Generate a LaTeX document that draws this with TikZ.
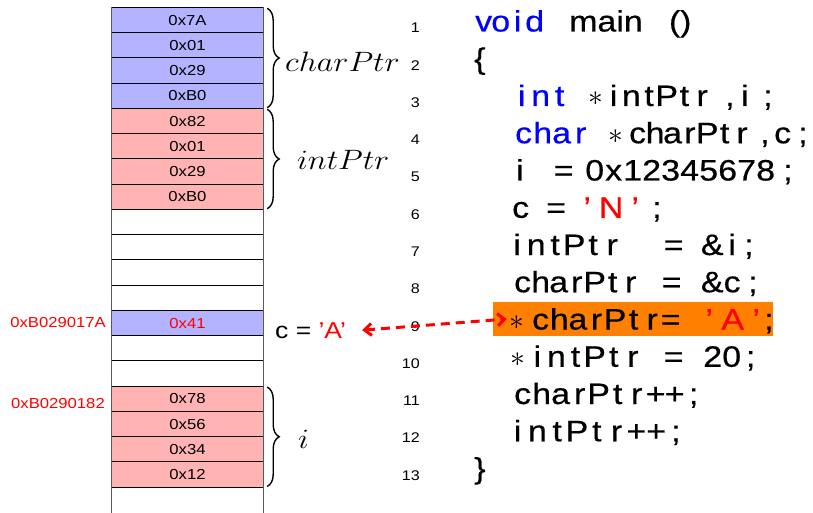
\documentclass[tikz,border=0pt]{standalone}
\usepackage{fix-cm}
\usepackage[no-math]{fontspec}
\setmainfont{Liberation Sans}[FakeStretch=1.15]
\newfontfamily\codefam{Liberation Sans}[FakeStretch=1.15,FakeBold=0.5]
\usepackage{graphicx}
\usetikzlibrary{decorations.pathreplacing,arrows.meta}
\definecolor{cellblue}{RGB}{179,179,255}
\definecolor{cellred}{RGB}{255,179,179}
\definecolor{hlorange}{RGB}{255,128,0}
\newlength\cw
\newcommand\cg[2]{\setlength\cw{#1pt}\cgA#2\relax}
\def\cgA#1{\ifx\relax#1\else\makebox[\cw][c]{#1}\expandafter\cgA\fi}
\tikzset{
  cell/.style={minimum width=151pt, minimum height=25.25pt, inner sep=0pt, font=\fontsize{14.5}{16}\selectfont},
  code/.style={anchor=base west, inner sep=0pt, font=\codefam\fontsize{29.5}{30}\selectfont},
  lnum/.style={anchor=base east, inner sep=0pt, font=\fontsize{14}{16}\selectfont},
  addr/.style={anchor=base east, inner sep=0pt, text=red, font=\fontsize{14.5}{16}\selectfont},
  brc/.style={decorate, decoration={brace, amplitude=12pt}, line width=1.4pt},
  lbl/.style={anchor=base west, inner sep=0pt, font=\fontsize{28}{30}\selectfont},
  hline/.style={line width=0.8pt, black},
  vline/.style={line width=1pt, black!65},
  arr/.style={red, line width=3pt, dash pattern=on 9pt off 6pt,
    {Straight Barb[length=7pt,width=12pt]}-{Straight Barb[length=7pt,width=12pt]}}
}
\begin{document}
\begin{tikzpicture}[x=1pt,y=-1pt]
\useasboundingbox (0,0) rectangle (813,513);
% memory cells
\foreach \i/\f/\t/\c in {0/cellblue/0x7A/black,1/cellblue/0x01/black,2/cellblue/0x29/black,3/cellblue/0xB0/black,
  4/cellred/0x82/black,5/cellred/0x01/black,6/cellred/0x29/black,7/cellred/0xB0/black,
  8/white//black,9/white//black,10/white//black,11/white//black,
  12/cellblue/0x41/red,13/white//black,14/white//black,
  15/cellred/0x78/black,16/cellred/0x56/black,17/cellred/0x34/black,18/cellred/0x12/black,19/white//black}
  \node[cell, fill=\f, text=\c] (m\i) at (187.5, {7.5+25.25*\i+12.625}) {\t};
\foreach \i in {0,...,19}
  \draw[hline] (m\i.north west) -- (m\i.north east);
\draw[vline] (m0.north west) -- (m19.south west);
\draw[vline] (m0.north east) -- (m19.south east);
% addresses
\node[addr] (a1) at (106,327) {0xB029017A};
\node[addr] (a2) at (105,408) {0xB0290182};
% braces and labels
\draw[brc] ([xshift=4pt,yshift=-1pt]m0.north east) -- ([xshift=4pt,yshift=1pt]m3.south east);
\draw[brc] ([xshift=4pt,yshift=-1pt]m4.north east) -- ([xshift=4pt,yshift=1pt]m7.south east);
\draw[brc] ([xshift=4pt,yshift=-1pt]m15.north east) -- ([xshift=4pt,yshift=1pt]m18.south east);
\node[lbl] (lcp) at (285,72) {\scalebox{1.15}[1]{$charPtr$}};
\node[lbl] (lip) at (297,170) {\scalebox{1.15}[1]{$intPtr$}};
\node[lbl] (li) at (298,448) {\scalebox{1.15}[1]{$i$}};
% line numbers
\foreach \n in {1,...,13}
  \node[lnum] (ln\n) at (420, {33+37.25*(\n-1)}) {\n};
% highlight
\node[fill=hlorange, minimum width=280pt, minimum height=34pt, inner sep=0pt] (hl) at (633,319) {};
% code
\node[code,text=blue] (c1a) at (475,31.5) {\cg{17}{void}};
\node[code] (c1b) at (569,31.5) {main};
\node[code] (c1c) at (669,31.5) {\cg{11}{()}};
\node[code] (c2) at (474,68.75) {\{};
\node[code,text=blue] (c3a) at (512,106) {\cg{19}{int}};
\node[code] (c3b) at (588.5,106) {\cg{15}{{$\ast$}}};
\node[code] (c3c) at (604.6,106) {\cg{17.7}{intPtr}};
\node[code] (c3d) at (725,106) {,};
\node[code] (c3e) at (741,106) {i};
\node[code] (c3f) at (763,106) {;};
\node[code,text=blue] (c4a) at (514,143.25) {\cg{19}{char}};
\node[code] (c4b) at (608.5,143.25) {\cg{15}{{$\ast$}}};
\node[code] (c4c) at (628.8,143.25) {\cg{17.4}{charPtr}};
\node[code] (c4d) at (760,143.25) {,};
\node[code] (c4e) at (774,143.25) {c};
\node[code] (c4f) at (798,143.25) {;};
\node[code] (c5a) at (516,180.5) {i};
\node[code] (c5b) at (553.5,180.5) {=};
\node[code] (c5c) at (585,180.5) {\cg{19}{0x12345678}};
\node[code] (c5d) at (783,180.5) {;};
\node[code] (c6a) at (512,217.75) {c};
\node[code] (c6b) at (546,217.75) {=};
\node[code,text=red] (c6c) at (575,217.75) {\cg{24}{’N’}};
\node[code] (c6d) at (652,217.75) {;};
\node[code] (c7a) at (507.5,255) {\cg{19}{intPtr}};
\node[code] (c7b) at (663.5,255) {=};
\node[code] (c7c) at (702,255) {\cg{20}{\&i}};
\node[code] (c7d) at (744,255) {;};
\node[code] (c8a) at (513.5,292.25) {\cg{18}{charPtr}};
\node[code] (c8b) at (661.5,292.25) {=};
\node[code] (c8c) at (702,292.25) {\cg{20}{\&c}};
\node[code] (c8d) at (748,292.25) {;};
\node[code] (c9a) at (509.5,329.5) {\cg{15}{{$\ast$}}};
\node[code] (c9b) at (531.2,329.5) {\cg{18.6}{charPtr}};
\node[code] (c9c) at (660.5,329.5) {=};
\node[code,text=red] (c9d) at (697.25,329.5) {\cg{23.5}{’A’}};
\node[code] (c9e) at (764,329.5) {;};
\node[code] (c10a) at (508.5,366.75) {\cg{19.1}{{$\ast$}intPtr}};
\node[code] (c10b) at (663.5,366.75) {=};
\node[code] (c10c) at (703,366.75) {\cg{19}{20;}};
\node[code] (c11) at (513,404) {\cg{19}{charPtr++;}};
\node[code] (c12) at (507.5,441.25) {\cg{19.8}{intPtr++;}};
\node[code] (c13) at (474,478.5) {\}};
% c = 'A' and arrow
\node[anchor=base west, inner sep=0pt, font=\fontsize{23}{24}\selectfont] (cA) at (275,338) {c = \textcolor{red}{’A’}};
\coordinate (aL) at ([xshift=16pt]cA.east);
\coordinate (aR) at ([xshift=14pt]hl.west);
\draw[arr] (aL) -- (aR);
\end{tikzpicture}
\end{document}
